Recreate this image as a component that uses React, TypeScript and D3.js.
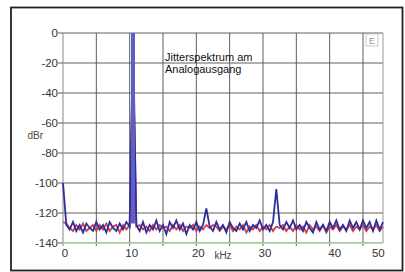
import React from "react";
import * as d3 from "d3";

const freqStep = 0.5; // kHz between samples
const blueValues = [
  -100, -128, -131, -126, -132, -128, -133, -127, -130, -132,
  -126, -131, -128, -133, -126, -130, -132, -127, -131, -126,
  -129, 0, -128, -132, -126, -133, -128, -131, -125, -132,
  -128, -134, -126, -130, -125, -131, -127, -134, -128, -131,
  -126, -132, -128, -117, -129, -132, -126, -131, -128, -133,
  -126, -130, -132, -127, -131, -126, -132, -128, -130, -125,
  -131, -128, -132, -126, -104, -128, -131, -126, -130, -125,
  -131, -128, -132, -126, -130, -133, -126, -131, -128, -132,
  -126, -130, -125, -131, -128, -132, -125, -130, -126, -131,
  -125, -130, -126, -132, -125, -131, -126,
];
const redValues = [
  -126, -127, -130, -132, -128, -131, -127, -132, -130, -128,
  -132, -128, -131, -127, -132, -129, -128, -133, -128, -131,
  -128, -12, -129, -128, -131, -129, -132, -128, -131, -128,
  -130, -129, -132, -128, -131, -128, -132, -129, -130, -128,
  -132, -129, -131, -128, -130, -128, -129, -132, -129, -131,
  -128, -132, -129, -131, -128, -133, -129, -131, -128, -132,
  -129, -131, -128, -132, -129, -130, -128, -132, -129, -132,
  -128, -131, -129, -133, -128, -131, -129, -132, -128, -133,
  -129, -131, -128, -132, -129, -131, -128, -132, -129, -131,
  -128, -132, -129, -131, -128, -132, -129,
];
const mainPeakIndex = 21;
const yTicks = [0, -20, -40, -60, -80, -100, -120, -140];
const xGrid = [5, 10, 15, 20, 25, 30, 35, 40, 45];
const xTickValues = [0, 10, 20, 30, 40, 47];
const xTickLabels = ["0", "10", "20", "30", "40", "50"];
const floorLevel = -139.5;
const titleLines = ["Jitterspektrum am", "Analogausgang"];
const yLabel = "dBr";
const xLabel = "kHz";

export default function App() {
  const left = 63, right = 383, top = 33, bottom = 243;
  const x = d3.scaleLinear().domain([0, 48]).range([left, right]);
  const y = d3.scaleLinear().domain([0, -140]).range([top, bottom]);
  const line = d3
    .line<number>()
    .x((_, i) => x(i * freqStep))
    .y((d) => y(d));
  const peakF = mainPeakIndex * freqStep;
  const font = "'Liberation Sans', Arial, sans-serif";
  return (
    <svg
      width={405}
      height={272}
      style={{ position: "absolute", left: 0, top: 0, background: "#fff" }}
    >
      <rect x={11} y={7.5} width={391.5} height={263} fill="#fff" stroke="#222" strokeWidth={1.8} />
      {/* grid */}
      {yTicks.map((t) => (
        <line key={"h" + t} x1={left - 5} x2={right} y1={y(t)} y2={y(t)} stroke="#5e5e5e" strokeWidth={1} />
      ))}
      {xGrid.map((t) => (
        <line key={"v" + t} x1={x(t)} x2={x(t)} y1={top} y2={bottom + 3} stroke="#5e5e5e" strokeWidth={1} />
      ))}
      <line x1={left} x2={left} y1={top} y2={bottom + 3} stroke="#888" strokeWidth={1} />
      <line x1={right} x2={right} y1={top} y2={bottom} stroke="#999" strokeWidth={1} />
      <line x1={left} x2={right} y1={y(floorLevel) + 1} y2={y(floorLevel) + 1} stroke="#b6dcae" strokeWidth={1.5} />
      {/* data */}
      <path d={line(redValues) || ""} fill="none" stroke="#d23c4c" strokeWidth={1.8} />
      <path d={line(blueValues) || ""} fill="none" stroke="#2b2f9a" strokeWidth={1.8} />
      <line
        x1={x(peakF)}
        x2={x(peakF)}
        y1={y(-127)}
        y2={y(blueValues[mainPeakIndex])}
        stroke="#5d5fc4"
        strokeWidth={4}
      />
      {/* y labels */}
      {yTicks.map((t) => (
        <text key={"yl" + t} x={left - 5} y={y(t) + 4} textAnchor="end" fontFamily={font} fontSize={11.5} fill="#333">
          {t}
        </text>
      ))}
      <text x={43} y={139} textAnchor="end" fontFamily={font} fontSize={10} fill="#444">
        {yLabel}
      </text>
      {/* x labels */}
      {xTickValues.map((t, i) => (
        <text key={"xl" + t} x={x(t) + (i === 4 ? 5 : 2)} y={257} textAnchor="middle" fontFamily={font} fontSize={11.5} fill="#333">
          {xTickLabels[i]}
        </text>
      ))}
      <text x={223} y={259} textAnchor="middle" fontFamily={font} fontSize={10} fill="#444">
        {xLabel}
      </text>
      {/* title */}
      {titleLines.map((s, i) => (
        <text key={s} x={165} y={61 + i * 12} fontFamily={font} fontSize={11} fill="#111">
          {s}
        </text>
      ))}
      <rect x={366} y={34} width={12} height={12} fill="none" stroke="#bbb" strokeWidth={0.8} />
      <text x={372} y={44} textAnchor="middle" fontFamily={font} fontSize={9} fill="#999">
        E
      </text>
    </svg>
  );
}
